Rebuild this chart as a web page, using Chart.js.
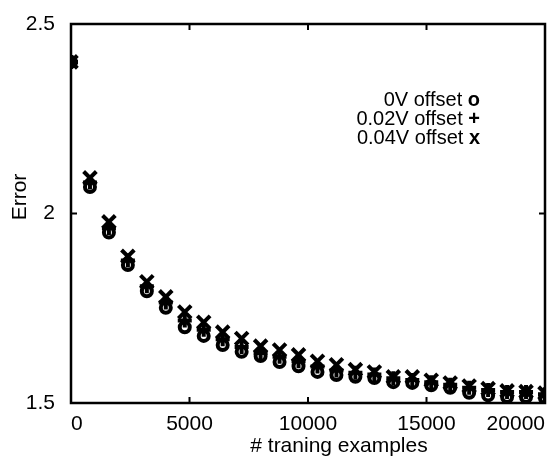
<!DOCTYPE html>
<html>
<head>
<meta charset="utf-8">
<script src="https://cdn.jsdelivr.net/npm/chart.js@4/dist/chart.umd.min.js"></script>
<style>
  body { margin: 0; background: #fff; }
  #wrap { width: 550px; height: 456px; }
</style>
</head>
<body>
<div id="wrap"><canvas id="canvas_error" width="550" height="456"></canvas></div>
<script>
// number of training examples (x)
const examples = [0, 800, 1600, 2400, 3200, 4000, 4800, 5600, 6400, 7200, 8000, 8800, 9600,
  10400, 11200, 12000, 12800, 13600, 14400, 15200, 16000, 16800, 17600, 18400, 19200, 20000];

// error for each offset
const err0V = [2.40, 2.070, 1.950, 1.864, 1.795, 1.751, 1.700, 1.677, 1.653, 1.635, 1.624, 1.608, 1.597,
  1.582, 1.574, 1.569, 1.566, 1.555, 1.553, 1.547, 1.540, 1.527, 1.520, 1.516, 1.516, 1.513];
const err002V = [2.40, 2.082, 1.962, 1.876, 1.808, 1.765, 1.718, 1.693, 1.668, 1.648, 1.632, 1.622, 1.610,
  1.596, 1.586, 1.580, 1.575, 1.565, 1.561, 1.555, 1.548, 1.540, 1.534, 1.529, 1.529, 1.523];
const err004V = [2.40, 2.094, 1.978, 1.887, 1.820, 1.780, 1.740, 1.713, 1.687, 1.670, 1.650, 1.640, 1.627,
  1.610, 1.601, 1.588, 1.582, 1.569, 1.569, 1.560, 1.553, 1.545, 1.538, 1.532, 1.530, 1.526];

const xTicks = [0, 5000, 10000, 15000, 20000];
const yTicks = [1.5, 2, 2.5];

const legendLabels = ['0V offset ', '0.02V offset ', '0.04V offset '];
const legendSymbols = ['o', '+', 'x'];

const FONT = "'Liberation Sans', Arial, Helvetica, sans-serif";
Chart.defaults.font.family = FONT;
Chart.defaults.color = '#000';

function toPoints(values) {
  return examples.map((x, i) => ({x: x, y: values[i]}));
}

// box around the plot + ticks pointing inwards on all four sides
const framePlugin = {
  id: 'frame',
  afterDraw(chart) {
    const {ctx, chartArea} = chart;
    const xs = chart.scales.x, ys = chart.scales.y;
    const len = 6;
    ctx.save();
    ctx.strokeStyle = '#000';
    ctx.lineWidth = 2.5;
    ctx.strokeRect(chartArea.left, chartArea.top, chartArea.right - chartArea.left, chartArea.bottom - chartArea.top);
    ctx.lineWidth = 2;
    ctx.beginPath();
    xTicks.forEach(v => {
      const px = xs.getPixelForValue(v);
      ctx.moveTo(px, chartArea.bottom); ctx.lineTo(px, chartArea.bottom - len);
      ctx.moveTo(px, chartArea.top); ctx.lineTo(px, chartArea.top + len);
    });
    yTicks.forEach(v => {
      const py = ys.getPixelForValue(v);
      ctx.moveTo(chartArea.left, py); ctx.lineTo(chartArea.left + len, py);
      ctx.moveTo(chartArea.right, py); ctx.lineTo(chartArea.right - len, py);
    });
    ctx.stroke();
    ctx.restore();
  }
};

// text legend inside the plot, right aligned, bold symbol at the end
const textLegendPlugin = {
  id: 'textLegend',
  afterDraw(chart) {
    const ctx = chart.ctx;
    const right = 480;
    const rows = [100, 119, 138];
    ctx.save();
    ctx.fillStyle = '#000';
    ctx.textBaseline = 'middle';
    ctx.textAlign = 'right';
    legendLabels.forEach((label, i) => {
      ctx.font = 'bold 20px ' + FONT;
      const w = ctx.measureText(legendSymbols[i]).width;
      ctx.fillText(legendSymbols[i], right, rows[i]);
      ctx.font = '20px ' + FONT;
      ctx.fillText(label, right - w, rows[i]);
    });
    ctx.restore();
  }
};

// axis titles (placed like the original figure, a bit off the plot centre)
const axisTitlePlugin = {
  id: 'axisTitles',
  afterDraw(chart) {
    const ctx = chart.ctx;
    ctx.save();
    ctx.fillStyle = '#000';
    ctx.font = '21px ' + FONT;
    ctx.textAlign = 'center';
    ctx.textBaseline = 'middle';
    ctx.fillText('# traning examples', 339, 446);
    ctx.translate(20, 197);
    ctx.rotate(-Math.PI / 2);
    ctx.fillText('Error', 0, 0);
    ctx.restore();
  }
};

const markerStyle = {
  showLine: false,
  borderColor: '#000',
  backgroundColor: 'rgba(0,0,0,0)',
  borderWidth: 4,
};

const config = {
  type: 'scatter',
  data: {
    datasets: [
      Object.assign({label: '0V offset', data: toPoints(err0V), pointStyle: 'circle', pointRadius: 5}, markerStyle),
      Object.assign({label: '0.02V offset', data: toPoints(err002V), pointStyle: 'cross', pointRadius: 7}, markerStyle),
      Object.assign({label: '0.04V offset', data: toPoints(err004V), pointStyle: 'crossRot', pointRadius: 9}, markerStyle),
    ]
  },
  options: {
    responsive: false,
    animation: false,
    layout: { autoPadding: false, padding: {top: 24, right: 5, left: 0, bottom: 0} },
    plugins: {
      legend: { display: false },
      tooltip: { enabled: false },
    },
    scales: {
      x: {
        type: 'linear',
        min: 0,
        max: 20000,
        grid: { display: false },
        border: { display: false },
        ticks: {
          stepSize: 5000,
          padding: 1,
          maxRotation: 0,
          align: 'inner',
          font: { size: 21 },
          callback: v => String(v),
        },
        afterFit: s => { s.height = 53; s.paddingLeft = 0; s.paddingRight = 0; },
      },
      y: {
        min: 1.5,
        max: 2.5,
        grid: { display: false },
        border: { display: false },
        ticks: {
          stepSize: 0.5,
          padding: 8,
          font: { size: 21 },
          callback: v => String(v),
        },
        afterFit: s => { s.width = 71; s.paddingTop = 0; s.paddingBottom = 0; },
      }
    }
  },
  plugins: [framePlugin, textLegendPlugin, axisTitlePlugin],
};

window.chart = new Chart(document.getElementById('canvas_error'), config);
</script>
</body>
</html>
